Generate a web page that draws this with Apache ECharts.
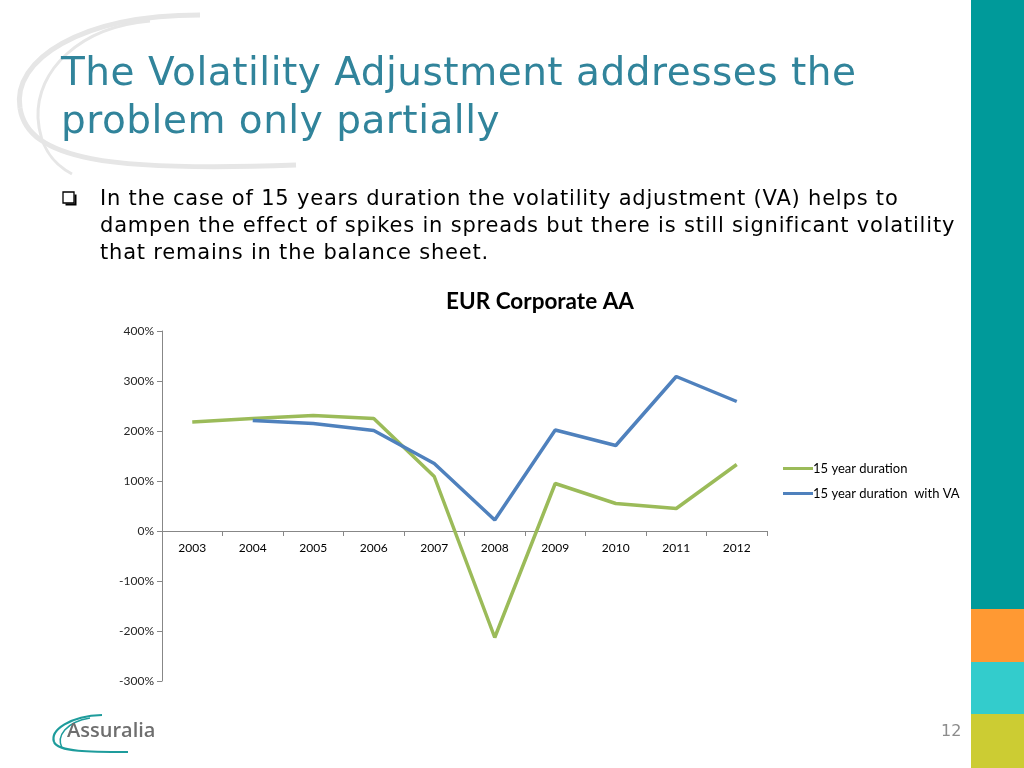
<!DOCTYPE html>
<html>
<head>
<meta charset="utf-8">
<script src="https://cdn.jsdelivr.net/npm/echarts@6/dist/echarts.min.js"></script>
<style>
html,body{margin:0;padding:0;background:#fff;}
#wrap{position:relative;width:1024px;height:768px;overflow:hidden;}
#c{position:absolute;left:0;top:0;width:1024px;height:768px;}
.t{position:absolute;white-space:nowrap;font-family:'DejaVu Sans',sans-serif;}
.h{color:#31849B;font-size:39px;letter-spacing:0.5px;left:61px;}
.b{color:#000;font-size:21px;letter-spacing:0.8px;left:100px;line-height:27px;}
</style>
</head>
<body>
<div id="wrap">
<div id="c"></div>
<div class="t h" style="top:49px;">The Volatility Adjustment addresses the</div>
<div class="t h" style="top:97px;">problem only partially</div>
<div class="t b" style="top:185px;">In the case of 15 years duration the volatility adjustment (VA) helps to</div>
<div class="t b" style="top:212px;">dampen the effect of spikes in spreads but there is still significant volatility</div>
<div class="t b" style="top:239px;">that remains in the balance sheet.</div>
</div>
<script>
const categories = ['2003','2004','2005','2006','2007','2008','2009','2010','2011','2012'];
const seriesNames = ['15 year duration', '15 year duration  with VA'];
const duration15 = [218, 225, 231, 225, 109, -213, 95, 55, 45, 133];
const duration15VA = [null, 221, 215, 201, 135, 22, 202, 171, 309, 259];
const yTicks = [-300, -200, -100, 0, 100, 200, 300, 400];

const chart = echarts.init(document.getElementById('c'), null, {renderer: 'canvas'});

const swoosh = '#e6e6e6';
const option = {
  backgroundColor: 'transparent',
  animation: false,
  title: {
    text: 'EUR Corporate AA',
    left: 535, top: 285, textAlign: 'center',
    textStyle: {fontFamily: 'Lato', fontWeight: 'bold', fontSize: 22.5, color: '#000'}
  },
  legend: {
    orient: 'vertical', left: 778, top: 457, itemWidth: 30, itemHeight: 10, itemGap: 12,
    icon: 'path://M0,4 L30,4 L30,7 L0,7 Z',
    textStyle: {fontFamily: 'Lato', fontSize: 13, color: '#000', padding: [0,0,0,-5]},
    data: seriesNames
  },
  grid: {left: 162, top: 331, width: 605, height: 350, containLabel: false},
  xAxis: {
    type: 'category', data: categories, boundaryGap: true, position: 'bottom', offset: -150,
    axisLine: {onZero: false, lineStyle: {color: '#878787', width: 1}},
    axisTick: {show: true, alignWithLabel: false, length: 5, lineStyle: {color: '#878787'}},
    axisLabel: {fontFamily: 'Lato', fontSize: 12, color: '#000', margin: 11},
    splitLine: {show: false}
  },
  yAxis: {
    type: 'value', min: yTicks[0], max: yTicks[yTicks.length-1], interval: 100,
    axisLine: {show: true, lineStyle: {color: '#878787'}},
    axisTick: {show: true, length: 5, lineStyle: {color: '#878787'}},
    axisLabel: {fontFamily: 'Lato', fontSize: 12, color: '#262626', formatter: '{value}%', margin: 8},
    splitLine: {show: false}
  },
  series: [
    {name: seriesNames[0], type: 'line', data: duration15, symbol: 'none', color: '#9BBB59',
     lineStyle: {width: 3.5, color: '#9BBB59'}, z: 2},
    {name: seriesNames[1], type: 'line', data: duration15VA, symbol: 'none', color: '#4F81BD',
     lineStyle: {width: 3.5, color: '#4F81BD'}, z: 3}
  ],
  graphic: [
    {type: 'bezierCurve', z: -1, shape: {x1: 200, y1: 15, cpx1: 80, cpy1: 15, cpx2: 12, cpy2: 60, x2: 20, y2: 108},
     style: {stroke: swoosh, lineWidth: 5, fill: null}},
    {type: 'bezierCurve', z: -1, shape: {x1: 20, y1: 108, cpx1: 28, cpy1: 160, cpx2: 110, cpy2: 172, x2: 296, y2: 165},
     style: {stroke: swoosh, lineWidth: 5, fill: null}},
    {type: 'bezierCurve', z: -1, shape: {x1: 150, y1: 21, cpx1: 80, cpy1: 27, cpx2: 36, cpy2: 70, x2: 38, y2: 118},
     style: {stroke: swoosh, lineWidth: 3, fill: null}},
    {type: 'bezierCurve', z: -1, shape: {x1: 38, y1: 118, cpx1: 40, cpy1: 150, cpx2: 55, cpy2: 165, x2: 72, y2: 174},
     style: {stroke: swoosh, lineWidth: 3, fill: null}},
    {type: 'rect', shape: {x: 63, y: 192, width: 11, height: 11}, style: {fill: '#fff', stroke: '#000', lineWidth: 1.3}},
    {type: 'polyline', shape: {points: [[65.5, 204.5], [75.5, 204.5], [75.5, 194.5]]}, style: {stroke: '#000', lineWidth: 2, fill: null}},
    {type: 'rect', shape: {x: 971, y: 0, width: 53, height: 609}, style: {fill: '#009A9A'}},
    {type: 'rect', shape: {x: 971, y: 609, width: 53, height: 53}, style: {fill: '#FF9933'}},
    {type: 'rect', shape: {x: 971, y: 662, width: 53, height: 52}, style: {fill: '#33CCCC'}},
    {type: 'rect', shape: {x: 971, y: 714, width: 53, height: 54}, style: {fill: '#CCCC33'}},
    {type: 'text', left: 941, top: 724, style: {text: '12', fontFamily: 'DejaVu Sans', fontSize: 16, fill: '#8C8C8C'}},
    {type: 'bezierCurve', shape: {x1: 102, y1: 715, cpx1: 70, cpy1: 716, cpx2: 50, cpy2: 730, x2: 54, y2: 742},
     style: {stroke: '#1E9C9C', lineWidth: 2.2, fill: null}},
    {type: 'bezierCurve', shape: {x1: 54, y1: 742, cpx1: 58, cpy1: 752, cpx2: 90, cpy2: 752, x2: 128, y2: 752},
     style: {stroke: '#1E9C9C', lineWidth: 2.2, fill: null}},
    {type: 'bezierCurve', shape: {x1: 90, y1: 718, cpx1: 66, cpy1: 722, cpx2: 56, cpy2: 736, x2: 62, y2: 748},
     style: {stroke: '#1E9C9C', lineWidth: 1.5, fill: null}},
    {type: 'text', left: 67, top: 721, style: {text: 'Assuralia', fontFamily: 'Open Sans', fontWeight: 600, fontSize: 20, fill: '#6E6E6E'}}
  ]
};
chart.setOption(option);
</script>
</body>
</html>
